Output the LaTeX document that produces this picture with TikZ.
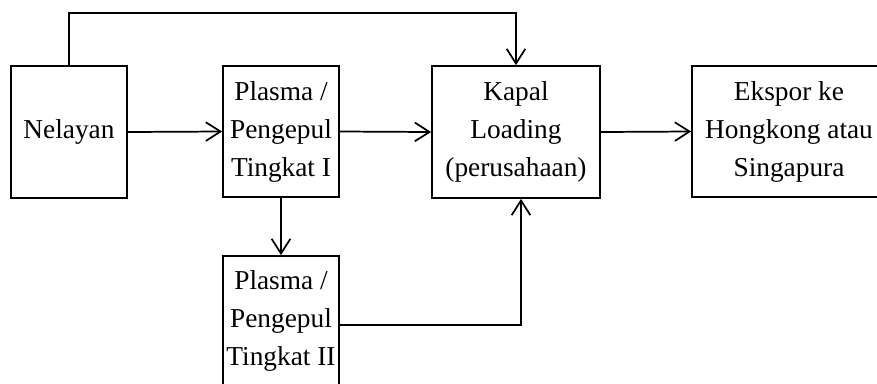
\documentclass[tikz,border=0pt]{standalone}
\usepackage{fontspec}
\setmainfont{Liberation Serif}
\usetikzlibrary{arrows.meta}
\begin{document}
\begin{tikzpicture}[x=0.75pt,y=-0.75pt,
  box/.style={draw,line width=1.3pt,rectangle,inner sep=0pt,align=center,
    font=\fontsize{20.5}{28.5}\selectfont},
  conn/.style={line width=1.3pt,-{Straight Barb[length=11pt,width=14pt,line width=1.3pt]}}]
\clip (0,0) rectangle (877,383);
\fill[white] (0,0) rectangle (877,383);
\node[box,minimum width=87pt,minimum height=99pt] (nel) at (69,132) {Nelayan};
\node[box,minimum width=87pt,minimum height=98.25pt] (p1) at (281,131.5) {Plasma /\\Pengepul\\Tingkat I};
\node[box,minimum width=126pt,minimum height=99pt] (kap) at (516,132) {Kapal\\Loading\\(perusahaan)};
\node[box,minimum width=145.5pt,minimum height=98.25pt] (eks) at (789,131.5) {Ekspor ke\\Hongkong atau\\Singapura};
\node[box,minimum width=87pt,minimum height=97.5pt] (p2) at (281,321) {Plasma /\\Pengepul\\Tingkat II};
\draw[conn] (nel.east) -- (p1.west);
\draw[conn] (p1.east) -- (kap.west);
\draw[conn] (kap.east) -- (eks.west);
\draw[conn] (p1.south) -- (p2.north);
\coordinate (kb) at ([xshift=3.75pt]kap.south);
\draw[conn] ([yshift=-3pt]p2.east) -| (kb);
\coordinate (top) at (69,13);
\draw[conn] (nel.north) -- (top) -| (kap.north);
\end{tikzpicture}
\end{document}
